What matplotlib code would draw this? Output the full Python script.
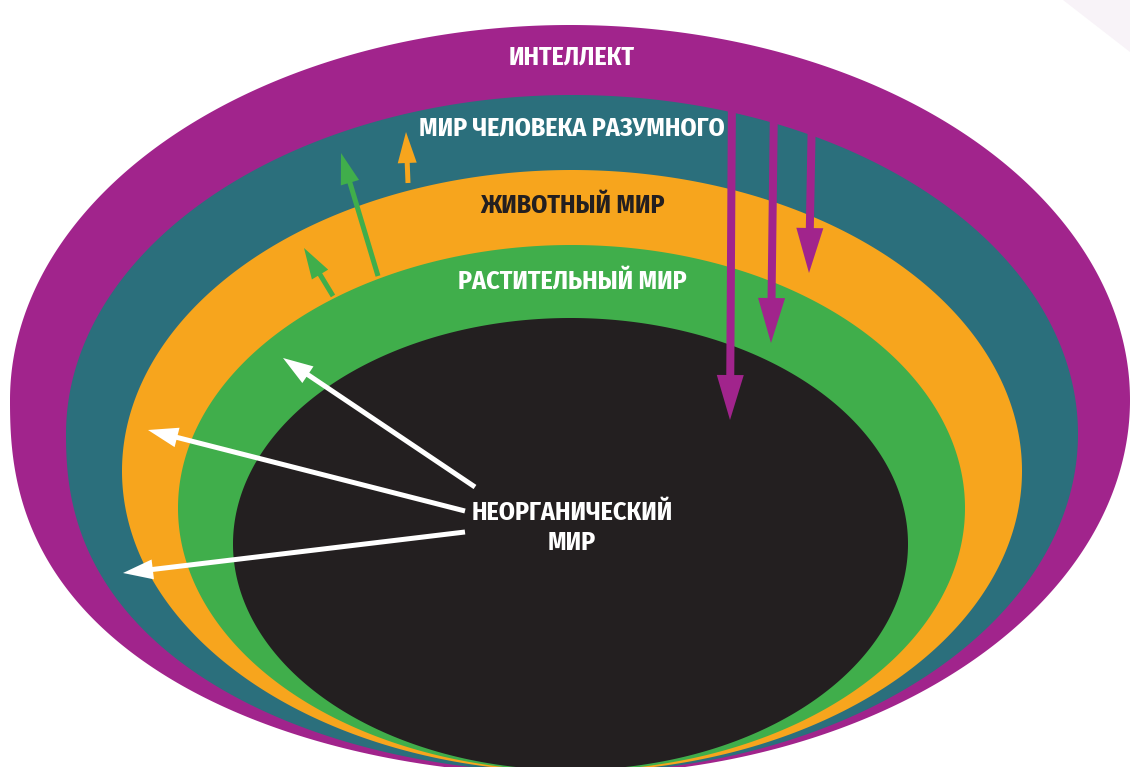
import matplotlib
matplotlib.use("Agg")
import numpy as np
import matplotlib.pyplot as plt
from matplotlib.patches import FancyArrow, Polygon

# ── Слои (снаружи внутрь) ──
layer_names = ['ИНТЕЛЛЕКТ', 'МИР ЧЕЛОВЕКА РАЗУМНОГО', 'ЖИВОТНЫЙ МИР',
               'РАСТИТЕЛЬНЫЙ МИР', 'НЕОРГАНИЧЕСКИЙ\nМИР']
layer_colors = ['#A1248C', '#2B6F7C', '#F7A51D', '#40AE4B', '#231F20']
label_colors = ['white', 'white', '#231F20', 'white', 'white']

# геометрия слоёв в пикселях: центр x, верх, низ, полуось a
ell_cx = [570, 572, 572, 571.5, 570.5]
ell_top = [25, 95, 170, 245, 318]
ell_bottom = [775, 773, 772, 771, 770]
ell_a = [560, 506, 450, 393.5, 337.5]
# показатель нижнего левого края: 2 = обычный эллипс
ll_power = [2.4, 2.3, 2.0, 2.0, 2.0]

label_y = [57, 128, 206, 281, 528]

# стрелки: (x0, y0, x1, y1)
white_arrows = [(475, 487, 283, 358), (465, 511, 148, 430), (465, 532, 123, 573)]
green_arrows = [(378, 276, 341, 153), (333, 296, 304, 248)]
orange_arrows = [(408, 183, 406, 132)]
purple_arrows = [(732, 90, 730, 420), (774, 100, 771, 343), (812, 110, 809, 273)]

FONT = ['Fira Sans Condensed', 'DejaVu Sans']


def layer_outline(cx, top, bot, a, p, n=200):
    cy = (top + bot) / 2
    b = (bot - top) / 2
    th = np.linspace(np.pi, -np.pi / 2, 3 * n)       # верх + правый низ
    x1 = cx + a * np.cos(th)
    y1 = cy - b * np.sin(th)
    s = np.linspace(1, 0, n)                          # левый низ
    x2 = cx - a * np.sqrt(1 - s ** p)
    y2 = cy + b * s
    return np.column_stack([np.r_[x1, x2], np.r_[y1, y2]])


fig = plt.figure(figsize=(11.3, 7.67), dpi=100)
ax = fig.add_axes([0, 0, 1, 1])
ax.set_xlim(0, 1130)
ax.set_ylim(767, 0)
ax.axis('off')

# светлый уголок справа сверху
ax.add_patch(Polygon([(1063, 0), (1130, 0), (1130, 52)], closed=True,
                     facecolor='#F8F3F8', edgecolor='none'))

for cx, top, bot, a, p, col in zip(ell_cx, ell_top, ell_bottom, ell_a,
                                   ll_power, layer_colors):
    ax.add_patch(Polygon(layer_outline(cx, top, bot, a, p), closed=True,
                         facecolor=col, edgecolor='none'))


def draw_arrows(arrows, color, w, hw, hl):
    for x0, y0, x1, y1 in arrows:
        ax.add_patch(FancyArrow(x0, y0, x1 - x0, y1 - y0, width=w, head_width=hw,
                                head_length=hl, length_includes_head=True,
                                color=color, linewidth=0))


draw_arrows(green_arrows, layer_colors[3], 5, 19, 31)
draw_arrows(orange_arrows, layer_colors[2], 5, 19, 31)
draw_arrows(purple_arrows, layer_colors[0], 8, 27, 45)
draw_arrows(white_arrows, 'white', 5, 20, 30)

for name, y, tc in zip(layer_names, label_y, label_colors):
    ax.text(572, y, name, ha='center', va='center', color=tc, fontsize=18.7,
            fontweight='bold', fontstretch='condensed', family=FONT,
            linespacing=1.25)

plt.savefig('out.png', dpi=100)
